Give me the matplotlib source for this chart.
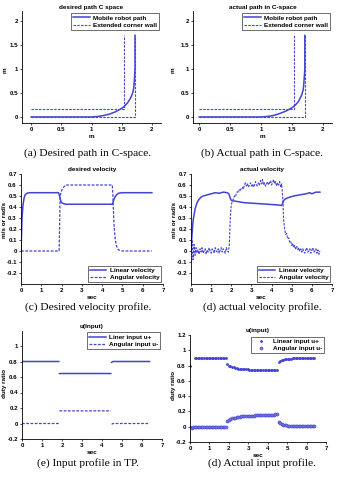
import numpy as np
import matplotlib
matplotlib.use("Agg")
import matplotlib.pyplot as plt

# ---------------- data ----------------
# (a) desired path in C-space
path_des_x = [0.0, 1.0, 1.1, 1.2, 1.3, 1.4, 1.5, 1.55, 1.6, 1.64, 1.67, 1.69, 1.70, 1.71, 1.72, 1.72]
path_des_y = [0.0, 0.0, 0.01, 0.03, 0.06, 0.11, 0.18, 0.23, 0.30, 0.38, 0.46, 0.54, 0.62, 0.78, 1.0, 1.7]
wall_in_x = [0.0, 1.53, 1.53]
wall_in_y = [0.17, 0.17, 1.7]
wall_out_x = [0.0, 1.72, 1.72]
wall_out_y = [0.0, 0.0, 1.7]

# (b) actual path in C-space
path_act_x = [0.0, 1.0, 1.1, 1.2, 1.3, 1.4, 1.5, 1.55, 1.6, 1.63, 1.66, 1.68, 1.69, 1.70, 1.71, 1.71]
path_act_y = [0.0, 0.0, 0.01, 0.03, 0.07, 0.12, 0.19, 0.24, 0.31, 0.38, 0.46, 0.55, 0.63, 0.80, 1.0, 1.7]

# (c) desired velocity profile
t_lin_des = [0, 0.05, 0.1, 0.15, 0.2, 0.3, 0.4, 0.6, 1.0, 1.5, 1.85, 1.9, 1.95, 2.0, 2.1, 2.2, 2.5,
             3.0, 4.0, 4.5, 4.55, 4.6, 4.7, 4.8, 5.0, 5.5, 6.0, 6.45]
lin_des = [0, 0.30, 0.42, 0.48, 0.51, 0.525, 0.53, 0.53, 0.53, 0.53, 0.53, 0.50, 0.46, 0.44, 0.43,
           0.425, 0.425, 0.425, 0.425, 0.425, 0.45, 0.48, 0.51, 0.525, 0.53, 0.53, 0.53, 0.53]
t_ang_des = [0, 1.0, 1.88, 1.9, 1.93, 2.0, 2.1, 2.2, 2.5, 3.0, 4.0, 4.5, 4.53, 4.57, 4.6, 4.65,
             4.7, 4.8, 5.0, 6.0, 6.45]
ang_des = [0, 0, 0, 0.2, 0.5, 0.55, 0.58, 0.6, 0.6, 0.6, 0.6, 0.6, 0.5, 0.3, 0.2, 0.1,
           0.05, 0.01, 0, 0, 0]

# (d) actual velocity profile
t_lin_act = [0, 0.05, 0.1, 0.2, 0.3, 0.4, 0.5, 0.6, 0.8, 1.0, 1.2, 1.4, 1.6, 1.8, 1.88, 1.95, 2.0,
             2.1, 2.3, 2.6, 3.0, 3.4, 3.8, 4.2, 4.5, 4.55, 4.6, 4.7, 4.9, 5.1, 5.4, 5.7, 5.9, 6.0,
             6.2, 6.4]
lin_act = [0.0, 0.15, 0.27, 0.38, 0.44, 0.47, 0.49, 0.50, 0.51, 0.52, 0.53, 0.525, 0.535, 0.53,
           0.52, 0.48, 0.46, 0.455, 0.45, 0.44, 0.435, 0.43, 0.425, 0.42, 0.415, 0.43, 0.46, 0.475,
           0.49, 0.50, 0.51, 0.52, 0.53, 0.52, 0.535, 0.535]
ang_act = [0.0, 0.10, -0.08, 0.06, -0.04, 0.03, -0.02, 0.01, -0.03, 0.02,
           -0.01, 0.03, -0.02, 0.00, 0.02, -0.03, 0.01, -0.01, 0.03, 0.00,
           -0.02, 0.02, 0.01, -0.02, 0.03, 0.00, -0.01, 0.02, -0.02, 0.01,
           0.03, -0.01, 0.02, 0.00, -0.02, 0.03, 0.01, -0.01, 0.05, 0.30,
           0.42, 0.45, 0.47, 0.50, 0.49, 0.52, 0.54, 0.53, 0.56, 0.55,
           0.57, 0.58, 0.56, 0.60, 0.62, 0.59, 0.61, 0.58, 0.60, 0.62,
           0.59, 0.61, 0.58, 0.60, 0.63, 0.60, 0.59, 0.62, 0.60, 0.64,
           0.61, 0.65, 0.60, 0.62, 0.59, 0.61, 0.63, 0.60, 0.62, 0.64,
           0.60, 0.62, 0.65, 0.61, 0.63, 0.59, 0.62, 0.60, 0.63, 0.58,
           0.61, 0.50, 0.28, 0.20, 0.15, 0.16, 0.11, 0.12, 0.08, 0.09,
           0.05, 0.07, 0.03, 0.05, 0.02, 0.04, 0.01, 0.03, 0.00, 0.02,
           -0.01, 0.02, 0.00, -0.02, 0.01, 0.03, -0.01, 0.00, 0.02, -0.02,
           0.01, 0.03, -0.01, 0.00, 0.02, -0.02, 0.01, -0.03, 0.00]
t_ang_act = np.linspace(0, 6.4, len(ang_act))

# (e) input profile in TP (NaN = break between steps)
t_in_tp = [0.0, 1.84, np.nan, 1.87, 4.44, np.nan, 4.48, 4.55, 6.38]
lin_in_tp = [0.80, 0.80, np.nan, 0.645, 0.645, np.nan, 0.79, 0.80, 0.80]
ang_in_tp = [0.0, 0.0, np.nan, 0.163, 0.163, np.nan, -0.01, 0.0, 0.0]

# (f) actual input profile (sampled)
lin_in_act = [0.80, np.nan, np.nan, 0.90, 0.90, 0.90, 0.90, 0.90, 0.90, 0.90,
              0.90, 0.90, 0.90, 0.90, 0.90, 0.90, 0.90, 0.90, 0.90, 0.90,
              0.90, 0.90, 0.90, 0.90, 0.82, 0.80, 0.79, 0.785, 0.78, 0.77,
              0.765, 0.76, 0.76, 0.755, 0.755, 0.75, 0.75, 0.75, 0.748, 0.748,
              0.747, 0.746, 0.746, 0.745, 0.745, 0.744, 0.744, 0.743, 0.743, 0.742,
              0.742, 0.741, 0.741, 0.740, 0.740, 0.740, 0.739, 0.85, 0.86, 0.87,
              0.875, 0.88, 0.885, 0.888, 0.89, 0.892, 0.894, 0.895, 0.896, 0.897,
              0.898, 0.898, 0.899, 0.899, 0.90, 0.90, 0.90, 0.90, 0.90, 0.90, 0.90]
ang_in_act = [-0.01, -0.015, -0.01, -0.005, 0.0, 0.0, 0.0, 0.0, 0.0, 0.0,
              0.0, 0.0, 0.0, 0.0, 0.0, 0.0, 0.0, 0.0, 0.0, 0.0,
              0.0, 0.0, 0.0, 0.0, 0.08, 0.09, 0.10, 0.11, 0.115, 0.12,
              0.125, 0.13, 0.133, 0.136, 0.138, 0.14, 0.141, 0.142, 0.143, 0.144,
              0.145, 0.146, 0.147, 0.148, 0.149, 0.15, 0.151, 0.152, 0.153, 0.154,
              0.155, 0.156, 0.157, 0.158, 0.159, 0.16, 0.162, 0.06, 0.045, 0.035,
              0.028, 0.022, 0.018, 0.015, 0.012, 0.01, 0.01, 0.008, 0.008, 0.007,
              0.006, 0.006, 0.005, 0.005, 0.005, 0.004, 0.004, 0.004, 0.004, 0.004, 0.004]
t_in_act = np.linspace(0, 6.4, len(lin_in_act))

# ---------------- style ----------------
C = '#4343d4'
DASH = (0, (2.2, 1.2))
TICK_FS = 4.4
LAB_FS = 4.6
W, H = 349, 483
plt.rcParams['font.family'] = ['Liberation Sans', 'DejaVu Sans']
plt.rcParams['font.weight'] = 'bold'

fig = plt.figure(figsize=(W / 100, H / 100), dpi=100)


def make_ax(left, right, top, bottom):
    ax = fig.add_axes([left / W, 1 - bottom / H, (right - left) / W, (bottom - top) / H])
    for s in ['top', 'right']:
        ax.spines[s].set_visible(False)
    for s in ['left', 'bottom']:
        ax.spines[s].set_linewidth(0.6)
    ax.tick_params(labelsize=TICK_FS, length=1.5, width=0.5, pad=1.5, direction='out')
    return ax


def legend(ax, loc):
    lg = ax.legend(loc=loc, frameon=True, fancybox=False, borderpad=0.3,
                   labelspacing=0.25, handlelength=2.6, handletextpad=0.5, borderaxespad=0.3,
                   prop={'weight': 'bold', 'size': 4.6})
    lg.get_frame().set_edgecolor('black')
    lg.get_frame().set_linewidth(0.5)


def title(ax, s):
    ax.set_title(s, fontsize=LAB_FS, fontweight='bold', pad=2)


def ylab(x, y, s, color='black'):
    fig.text(x / W, 1 - y / H, s, rotation=90, ha='center', va='center',
             fontsize=LAB_FS, fontweight='bold', color=color)


# (a)
ax = make_ax(22, 161, 11.4, 123.2)
ax.plot(path_des_x, path_des_y, color=C, lw=1.1, label='Mobile robot path')
ax.plot(wall_in_x, wall_in_y, color=C, lw=0.8, ls=DASH, label='Extended corner wall')
ax.plot(wall_out_x, wall_out_y, color=C, lw=0.8, ls=DASH)
ax.set_xlim(-0.15, 2.15)
ax.set_ylim(-0.13, 2.2)
ax.set_xticks([0, 0.5, 1, 1.5, 2])
ax.set_xticklabels(['0', '0.5', '1', '1.5', '2'])
ax.set_yticks([0, 0.5, 1, 1.5, 2])
ax.set_yticklabels(['0', '0.5', '1', '1.5', '2'])
ax.set_xlabel('m', fontsize=LAB_FS, fontweight='bold', labelpad=1)
title(ax, 'desired path C space')
legend(ax, 'upper right')
ylab(5, 70, 'm')

# (b)
ax = make_ax(193, 332, 11.4, 123.2)
ax.plot(path_act_x, path_act_y, color=C, lw=1.1, label='Mobile robot path')
ax.plot(wall_in_x, wall_in_y, color=C, lw=0.8, ls=DASH, label='Extended corner wall')
ax.plot(wall_out_x, wall_out_y, color=C, lw=0.8, ls=DASH)
ax.set_xlim(-0.1, 2.15)
ax.set_ylim(-0.13, 2.2)
ax.set_xticks([0, 0.5, 1, 1.5, 2])
ax.set_xticklabels(['0', '0.5', '1', '1.5', '2'])
ax.set_yticks([0, 0.5, 1, 1.5, 2])
ax.set_yticklabels(['0', '0.5', '1', '1.5', '2'])
ax.set_xlabel('m', fontsize=LAB_FS, fontweight='bold', labelpad=1)
title(ax, 'actual path in C-space')
legend(ax, 'upper right')
ylab(173, 70, 'm')

vel_ticks = [-0.2, -0.1, 0, 0.1, 0.2, 0.3, 0.4, 0.5, 0.6, 0.7]
vel_labels = ['-0.2', '-0.1', '0', '0.1', '0.2', '0.3', '0.4', '0.5', '0.6', '0.7']

# (c)
ax = make_ax(21, 163, 174, 284)
ax.plot(t_lin_des, lin_des, color=C, lw=1.1, label='Linear velocity')
ax.plot(t_ang_des, ang_des, color=C, lw=0.9, ls=DASH, label='Angular velocity')
ax.set_xlim(0, 7)
ax.set_ylim(-0.3, 0.7)
ax.set_yticks(vel_ticks)
ax.set_yticklabels(vel_labels)
ax.set_xticks(range(8))
ax.set_xlabel('sec', fontsize=LAB_FS, fontweight='bold', labelpad=1)
title(ax, 'desired velocity')
legend(ax, 'lower right')
ylab(5, 220, 'm/s or rad/s')

# (d)
ax = make_ax(191, 332, 174, 284)
ax.plot(t_lin_act, lin_act, color=C, lw=1.1, label='Linear velocity')
ax.plot(t_ang_act, ang_act, color=C, lw=0.8, ls=DASH, label='Angular velocity')
ax.set_xlim(0, 7)
ax.set_ylim(-0.3, 0.7)
ax.set_yticks(vel_ticks)
ax.set_yticklabels(vel_labels)
ax.set_xticks(range(8))
ax.set_xlabel('sec', fontsize=LAB_FS, fontweight='bold', labelpad=1)
title(ax, 'actual velocity')
legend(ax, 'lower right')
ylab(174, 220, 'm/s or rad/s')

# (e)
ax = make_ax(22, 162, 330.5, 439)
ax.plot(t_in_tp, lin_in_tp, color=C, lw=1.1, label='Liner input u+')
ax.plot(t_in_tp, ang_in_tp, color=C, lw=0.9, ls=DASH, label='Angular input u-')
ax.set_xlim(0, 7)
ax.set_ylim(-0.2, 1.2)
ax.set_yticks([-0.2, 0, 0.2, 0.4, 0.6, 0.8, 1])
ax.set_yticklabels(['-0.2', '0', '0.2', '0.4', '0.6', '0.8', '1'])
ax.set_xticks(range(8))
ax.set_xlabel('sec', fontsize=LAB_FS, fontweight='bold', labelpad=1)
title(ax, 'u(Input)')
legend(ax, 'upper right')
ylab(5, 383, 'duty ratio')

# (f)
ax = make_ax(190, 326, 335, 442)
ax.plot(t_in_act, lin_in_act, ls='none', marker='.', ms=2.0, color=C, label='Linear input u+')
ax.plot(t_in_act, ang_in_act, ls='none', marker='o', ms=2.2, mfc='#7a7ae0', mec=C, mew=0.4,
        color=C, label='Angular input u-')
ax.set_xlim(0, 7)
ax.set_ylim(-0.2, 1.2)
ax.set_yticks([-0.2, 0, 0.2, 0.4, 0.6, 0.8, 1, 1.2])
ax.set_yticklabels(['-0.2', '0', '0.2', '0.4', '0.6', '0.8', '1', '1.2'])
ax.set_xticks(range(8))
ax.set_xlabel('sec', fontsize=LAB_FS, fontweight='bold', labelpad=1)
title(ax, 'u(input)')
legend(ax, 'upper right')
ylab(174, 385, 'duty ratio')

# captions
cap = dict(fontsize=8.2, family=['Liberation Serif', 'DejaVu Serif'], fontweight='normal',
           ha='center', va='center')
fig.text(88 / W, 1 - 153 / H, '(a) Desired path in C-space.', **cap)
fig.text(262 / W, 1 - 153 / H, '(b) Actual path in C-space.', **cap)
fig.text(88 / W, 1 - 307 / H, '(c) Desired velocity profile.', **cap)
fig.text(262 / W, 1 - 307 / H, '(d) actual velocity profile.', **cap)
fig.text(88 / W, 1 - 463 / H, '(e) Input profile in TP.', **cap)
fig.text(262 / W, 1 - 463 / H, '(d) Actual input profile.', **cap)

fig.savefig('out.png', dpi=100)
